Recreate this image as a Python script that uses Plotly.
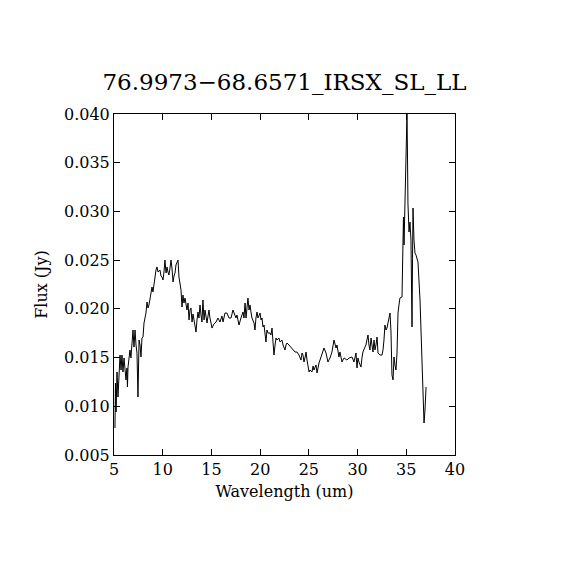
import plotly.graph_objects as go

# spectrum (wavelength in um, flux in Jy)
wavelength = [
    5.10, 5.15, 5.21, 5.31, 5.41, 5.62, 5.72, 5.82, 5.92, 6.03, 6.23, 6.33, 6.38, 6.44,
    6.64, 6.74, 6.85, 6.95, 7.05, 7.16, 7.26, 7.36, 7.46, 7.57, 7.67, 7.77, 7.87, 7.98,
    8.08, 8.28, 8.39, 8.49, 8.59, 8.80, 8.90, 9.00, 9.11, 9.21, 9.31, 9.41, 9.52, 9.72,
    9.82, 9.93, 10.03, 10.13, 10.23, 10.34, 10.44, 10.54, 10.64, 10.75, 10.85, 10.95,
    11.06, 11.16, 11.26, 11.36, 11.47, 11.57, 11.67, 11.77, 11.88, 11.98, 12.08, 12.18,
    12.29, 12.49, 12.60, 12.70, 12.80, 12.90, 13.01, 13.11, 13.31, 13.42, 13.52, 13.62,
    13.72, 13.83, 13.93, 14.03, 14.13, 14.24, 14.34, 14.44, 14.55, 14.65, 14.75, 14.85,
    15.06, 15.26, 15.47, 15.67, 15.88, 16.08, 16.19, 16.39, 16.60, 16.80, 17.01, 17.21,
    17.42, 17.52, 17.62, 17.83, 18.03, 18.24, 18.34, 18.45, 18.55, 18.75, 18.86, 18.96,
    19.06, 19.16, 19.37, 19.47, 19.57, 19.68, 19.78, 19.99, 20.09, 20.19, 20.29, 20.40,
    20.60, 20.70, 20.81, 21.01, 21.11, 21.22, 21.32, 21.42, 21.53, 21.63, 21.73, 21.93,
    22.04, 22.24, 22.35, 22.55, 22.65, 22.76, 22.96, 23.17, 23.37, 23.58, 23.78, 23.99,
    24.19, 24.30, 24.40, 24.50, 24.60, 24.71, 24.81, 24.91, 25.02, 25.12, 25.32, 25.43,
    25.53, 25.73, 25.84, 25.94, 26.04, 26.25, 26.45, 26.55, 26.76, 26.96, 27.17, 27.37,
    27.58, 27.68, 27.79, 27.89, 28.09, 28.19, 28.40, 28.61, 28.91, 29.12, 29.43, 29.63,
    29.84, 29.94, 30.04, 30.14, 30.35, 30.45, 30.55, 30.76, 30.86, 30.96, 31.07, 31.17,
    31.27, 31.38, 31.48, 31.58, 31.69, 31.79, 31.89, 32.00, 32.10, 32.30, 32.51, 32.61,
    32.71, 32.81, 32.92, 33.02, 33.12, 33.22, 33.33, 33.43, 33.53, 33.64, 33.74, 33.84,
    33.94, 34.05, 34.15, 34.25, 34.35, 34.56, 34.66, 34.71, 34.77, 34.87, 34.97, 35.07,
    35.12, 35.17, 35.28, 35.38, 35.48, 35.59, 35.64, 35.69, 35.79, 35.89, 36.00, 36.10,
    36.20, 36.41, 36.51, 36.61, 36.72, 36.82, 36.92, 37.03,
]
flux = [
    0.00777, 0.01239, 0.00941, 0.01352, 0.01095, 0.01526, 0.01372, 0.01526, 0.01352, 0.01496,
    0.01270, 0.01393, 0.01198, 0.01403, 0.01578, 0.01496, 0.01650, 0.01783, 0.01608, 0.01783,
    0.01629, 0.01547, 0.01095, 0.01680, 0.01629, 0.01506, 0.01701, 0.01711, 0.01855, 0.01957,
    0.02070, 0.02009, 0.02040, 0.02193, 0.02224, 0.02173, 0.02265, 0.02296, 0.02399, 0.02430,
    0.02378, 0.02399, 0.02337, 0.02327, 0.02296, 0.02378, 0.02501, 0.02368, 0.02430, 0.02378,
    0.02347, 0.02419, 0.02501, 0.02419, 0.02276, 0.02337, 0.02368, 0.02450, 0.02481, 0.02501,
    0.02327, 0.02276, 0.02193, 0.02019, 0.02142, 0.02060, 0.02111, 0.01988, 0.02060, 0.01886,
    0.01988, 0.02009, 0.01865, 0.01947, 0.01834, 0.01762, 0.01886, 0.01968, 0.01906, 0.02040,
    0.01937, 0.01865, 0.02091, 0.01886, 0.01988, 0.01927, 0.01855, 0.01927, 0.01988, 0.01906,
    0.01803, 0.01845, 0.01865, 0.01906, 0.01865, 0.01927, 0.01865, 0.01957, 0.01957, 0.01906,
    0.01906, 0.01988, 0.01937, 0.01906, 0.01937, 0.01834, 0.01906, 0.01968, 0.01906, 0.02060,
    0.01906, 0.02111, 0.01988, 0.02040, 0.01968, 0.01906, 0.01855, 0.01783, 0.01906, 0.01968,
    0.01906, 0.01957, 0.01886, 0.01906, 0.01814, 0.01834, 0.01660, 0.01783, 0.01752, 0.01752,
    0.01732, 0.01803, 0.01660, 0.01526, 0.01629, 0.01701, 0.01680, 0.01701, 0.01660, 0.01680,
    0.01629, 0.01578, 0.01629, 0.01650, 0.01629, 0.01608, 0.01578, 0.01557, 0.01557, 0.01526,
    0.01475, 0.01547, 0.01526, 0.01455, 0.01496, 0.01557, 0.01475, 0.01393, 0.01352, 0.01372,
    0.01352, 0.01413, 0.01372, 0.01424, 0.01342, 0.01393, 0.01444, 0.01506, 0.01557, 0.01598,
    0.01547, 0.01455, 0.01496, 0.01557, 0.01680, 0.01618, 0.01598, 0.01629, 0.01506, 0.01557,
    0.01455, 0.01496, 0.01475, 0.01496, 0.01506, 0.01455, 0.01547, 0.01393, 0.01496, 0.01455,
    0.01403, 0.01496, 0.01557, 0.01608, 0.01629, 0.01680, 0.01732, 0.01629, 0.01578, 0.01701,
    0.01629, 0.01557, 0.01680, 0.01578, 0.01629, 0.01711, 0.01547, 0.01526, 0.01526, 0.01578,
    0.01680, 0.01834, 0.01783, 0.01803, 0.01855, 0.01906, 0.01957, 0.01762, 0.01321, 0.01270,
    0.01506, 0.01424, 0.01372, 0.01547, 0.01957, 0.02040, 0.02111, 0.02122, 0.02532, 0.02943,
    0.02655, 0.03045, 0.03323, 0.04000, 0.03630, 0.03086, 0.02789, 0.02891, 0.02706, 0.01814,
    0.02517, 0.03035, 0.02706, 0.02573, 0.02552, 0.02522, 0.02481, 0.02091, 0.01783, 0.01608,
    0.01095, 0.00828, 0.00961, 0.01198,
]

x_ticks = [5, 10, 15, 20, 25, 30, 35, 40]
y_ticks = [0.005, 0.010, 0.015, 0.020, 0.025, 0.030, 0.035, 0.040]

FONT = "DejaVu Serif"

fig = go.Figure(go.Scatter(
    x=wavelength,
    y=flux,
    mode="lines",
    line=dict(color="black", width=1),
    hoverinfo="skip",
))

axis_style = dict(
    showline=True,
    linecolor="black",
    linewidth=1,
    mirror="allticks",
    ticks="inside",
    ticklen=6,
    tickwidth=1,
    tickcolor="black",
    showgrid=False,
    zeroline=False,
    tickfont=dict(family=FONT, size=16, color="black"),
)

# the page body adds an 8px offset, so the margins are shifted to compensate
fig.update_layout(
    width=570,
    height=570,
    paper_bgcolor="white",
    plot_bgcolor="white",
    showlegend=False,
    margin=dict(l=106, r=123, t=106, b=123),
    title=dict(
        text="76.9973\u221268.6571_IRSX_SL_LL",
        font=dict(family=FONT, size=23, color="black"),
        x=0.5,
        xanchor="center",
        xref="paper",
        y=1 - 74 / 570,
        yref="container",
        yanchor="middle",
    ),
    xaxis=dict(
        axis_style,
        range=[5, 40],
        tickvals=x_ticks,
        ticktext=[str(v) for v in x_ticks],
        title=dict(text="Wavelength (um)", font=dict(family=FONT, size=16, color="black"), standoff=7),
    ),
    yaxis=dict(
        axis_style,
        range=[0.005, 0.040],
        tickvals=y_ticks,
        ticktext=[f"{v:.3f}" for v in y_ticks],
        title=dict(text="Flux (Jy)", font=dict(family=FONT, size=16, color="black"), standoff=12),
    ),
)

fig.write_html("out.html")
